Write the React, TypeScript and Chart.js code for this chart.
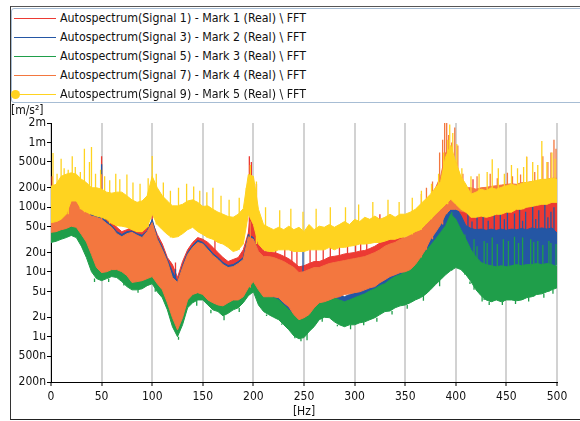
import React, { useEffect, useRef } from 'react';
import { Chart, registerables } from 'chart.js';

Chart.register(...registerables);

// Spectra are summarised every 5 Hz by the top of the dense band and its floor
// (µm/s²); isolated narrow peaks and dips are listed separately as [Hz, µm/s²].
const FREQ_STEP = 5;
const FREQ_MAX = 500;

const yTickValues = [0.2, 0.5, 1, 2, 5, 10, 20, 50, 100, 200, 500, 1000, 2000];
const xTickStep = 50;

const seriesNames = [
  'Autospectrum(Signal 1) - Mark 1 (Real) \\ FFT',
  'Autospectrum(Signal 3) - Mark 2 (Real) \\ FFT',
  'Autospectrum(Signal 5) - Mark 3 (Real) \\ FFT',
  'Autospectrum(Signal 7) - Mark 4 (Real) \\ FFT',
  'Autospectrum(Signal 9) - Mark 5 (Real) \\ FFT',
];
const seriesColors = ['#ec3a33', '#2456a4', '#1f9e4a', '#f3773f', '#ffd320'];
// lower number = painted later (on top)
const seriesOrder = [4, 3, 2, 1, 0];

const signal1Top = [
  110, 111, 111, 133, 159, 159, 133, 103, 87, 78,
  80, 70, 60, 49, 42, 45, 49, 42, 41, 49,
  60, 38, 27, 16.7, 13, 8.2, 14.5, 22, 28.6, 34,
  32, 28.6, 24, 20, 16.7, 14.5, 15.6, 16.7, 22, 40,
  200, 32, 21, 21, 20, 19, 17.5, 16, 14, 12,
  12.5, 13.5, 14.5, 14.5, 15.5, 17, 17.5, 18, 19, 19.5,
  20, 21, 21.5, 23, 25, 28, 30, 32, 34, 38,
  32, 34, 28.6, 32, 38, 42, 54, 65, 93, 133,
  111, 93, 111, 110, 103, 111, 93, 111, 100, 111,
  103, 119, 111, 119, 133, 119, 133, 143, 133, 143,
  133,
];
const signal1Floor = [
  49, 50, 54, 56, 61, 59, 46, 35, 22, 14,
  11.8, 12.1, 13, 13, 12.1, 10.6, 8.3, 8.5, 8.8, 9.5,
  10.2, 7.9, 6.4, 4, 2.4, 1.5, 2.4, 4.4, 5.4, 5.8,
  5.4, 4.4, 4, 3.7, 3.6, 4, 4.4, 4.4, 5, 6.8,
  8.5, 6.4, 5, 5, 5, 4.8, 4, 3.5, 2.6, 2.2,
  2.4, 2.6, 3.4, 4, 4.2, 4.4, 4.8, 5, 5.4, 5.5,
  5.8, 5.9, 6.0, 6.2, 6.4, 6.6, 6.9, 7.3, 7.6, 8.2,
  8.8, 9.5, 10.5, 12, 13.5, 15.6, 18, 20, 22, 25,
  27, 25, 22, 26, 22, 25, 21, 24, 22, 25,
  21, 24, 22, 25, 23, 26, 24, 27, 25, 28,
  26,
];
const signal1Spikes = [
  [1, 300], [50, 615], [100, 90], [123, 14], [162, 42], [196, 615], [198, 500], [203, 230],
  [210, 32], [215, 27], [222, 30], [231, 25], [238, 25], [243, 22], [256, 24], [262, 22],
  [269, 27], [276, 25], [285, 28], [293, 30], [301, 30], [306, 28], [312, 32], [325, 78],
  [331, 35], [338, 40], [409, 150], [417, 271], [433, 140], [452, 160], [471, 170], [489, 180],
];

const signal3Top = [
  103, 93, 103, 119, 143, 148, 119, 93, 78, 73,
  75, 60, 52, 42, 38, 42, 43, 39, 37, 43,
  65, 34, 24, 15.6, 10.1, 7.1, 12.6, 20, 25.7, 31,
  28.6, 24, 19.3, 16.7, 14, 12.6, 13, 14.5, 16.7, 38,
  34, 18.6, 5.95, 5.3, 4.8, 4.5, 3.7, 3.1, 2.6, 2.35,
  2.6, 3.1, 4.0, 4.8, 5.3, 4.95, 4.8, 4.5, 4.15, 4.5,
  4.8, 5.1, 5.5, 6.15, 6.6, 7.35, 7.9, 9.1, 10.1, 11.7,
  14.5, 22, 28.6, 35.4, 45, 60, 78, 93, 103, 111,
  100, 75, 52, 47, 45, 46, 44, 46, 44, 46,
  44, 46, 45, 47, 45, 48, 46, 48, 46, 48,
  40,
];
const signal3Floor = [
  45, 46, 50, 52, 56, 54, 42, 32, 20.5, 12.9,
  10.8, 11.1, 12, 12, 11.1, 9.7, 7.6, 7.8, 8.1, 8.7,
  9.4, 7.3, 5.8, 3.7, 2.2, 1.4, 2.2, 4.1, 5, 5.3,
  5, 4.1, 3.7, 3.4, 3.3, 3.7, 4.1, 4.1, 4.6, 6.3,
  7.8, 3.3, 2.6, 2.3, 2.1, 1.9, 1.6, 1.35, 1.08, 0.98,
  1.02, 1.26, 1.5, 1.9, 2.1, 2.1, 1.8, 1.6, 1.5, 1.6,
  1.6, 1.7, 1.8, 1.9, 2.1, 2.3, 2.6, 2.6, 2.9, 3.2,
  3.3, 3.5, 3.9, 4.2, 4.7, 5.6, 6.7, 8.5, 10, 11.5,
  12.5, 12, 11.7, 11, 10.5, 10, 10, 10.5, 10, 10.5,
  11, 10.5, 11, 11.5, 11, 12, 11.5, 12, 12.5, 12,
  13,
];
const signal3Spikes = [
  [50, 462], [123, 11], [249, 25], [412, 85], [416, 60], [421, 75], [427, 95], [432, 62],
  [438, 85], [444, 90], [448, 65], [451, 100], [458, 80], [463, 95], [466, 62], [469, 85],
  [476, 110], [479, 66], [482, 90], [488, 110], [491, 70], [494, 85], [497, 100],
];

const signal5Top = [
  54, 52, 56, 60, 65, 60, 49, 35, 24, 18,
  16.7, 16.7, 18, 17.3, 15.6, 13, 10.9, 10.9, 11.7, 13,
  14.5, 10.9, 8.2, 5.3, 3.1, 1.97, 3.1, 5.3, 6.6, 7.1,
  6.85, 5.7, 4.95, 4.5, 4.0, 4.3, 4.95, 5.3, 6.4, 9.1,
  10.1, 6.4, 4.95, 4.5, 4.0, 3.7, 3.1, 2.6, 2.2, 1.97,
  2.2, 2.6, 3.35, 4.0, 4.5, 4.15, 4.0, 3.7, 3.47, 3.7,
  4.0, 4.3, 4.6, 5.1, 5.5, 6.15, 6.6, 7.6, 8.5, 9.1,
  10.1, 11.7, 14, 16.7, 20.7, 25.7, 32, 40.8, 52, 78,
  65, 45, 32, 22, 17, 14, 13, 12.5, 12, 12.5,
  12, 12.5, 13, 12.5, 13, 13, 13.5, 13, 13.5, 13,
  12,
];
const signal5Floor = [
  28.6, 29.8, 32, 34, 36.7, 34, 25, 16.7, 10.1, 7.9,
  7.35, 7.9, 8.5, 8.2, 7.1, 5.95, 5.3, 5.3, 5.5, 6.15,
  6.6, 4.95, 4.0, 2.6, 1.43, 1.0, 1.53, 2.8, 3.35, 3.7,
  3.7, 3.1, 2.6, 2.45, 2.1, 2.3, 2.6, 2.8, 3.35, 4.3,
  4.95, 3.1, 2.45, 2.2, 2.0, 1.83, 1.53, 1.28, 1.03, 0.93,
  0.97, 1.2, 1.43, 1.83, 2.0, 1.97, 1.7, 1.53, 1.43, 1.53,
  1.53, 1.64, 1.7, 1.83, 1.97, 2.2, 2.45, 2.5, 2.8, 3.0,
  3.1, 3.35, 3.7, 4.0, 4.5, 5.3, 6.4, 7.6, 9.1, 10.5,
  11.7, 10.9, 9.1, 7.1, 5.3, 4.3, 3.7, 3.47, 3.7, 3.47,
  3.7, 3.7, 3.6, 3.7, 4.0, 4.15, 4.5, 4.6, 4.95, 5.3,
  5.7,
];
const signal5Spikes = [
  [43, 7], [57, 7], [72, 6.2], [86, 4.8], [103, 5.6], [117, 2.3], [126, 0.9], [144, 3.0],
  [158, 2.3], [171, 1.8], [186, 2.4], [213, 2.1], [228, 1.6], [241, 0.95], [247, 0.85],
  [253, 0.88], [268, 1.7], [283, 1.45], [296, 1.3], [309, 1.5], [322, 1.7], [337, 2.2],
  [352, 2.7], [368, 3.6], [384, 6], [396, 84], [409, 38], [414, 6.5], [418, 32], [421, 25],
  [426, 3.5], [428, 30], [431, 28], [433, 3.1], [436, 34], [441, 27], [446, 3.1], [447, 32],
  [452, 30], [458, 35], [459, 3.2], [462, 28], [466, 34], [472, 3.5], [474, 32], [477, 29],
  [481, 30], [486, 26], [487, 4.0], [492, 30], [494, 28], [496, 4.6], [499, 27],
];

const signal7Top = [
  93, 87, 93, 111, 133, 143, 111, 87, 73, 70,
  65, 56, 49, 39, 35, 39, 41, 37, 34, 42,
  58, 32, 22, 14.5, 8.2, 6.9, 11.7, 18.6, 24, 28.6,
  27, 22, 18, 15.6, 13, 11.7, 12.1, 13.5, 15.6, 35,
  32, 20.7, 17.3, 17.3, 16.7, 15.6, 14.5, 13, 11.7, 9.8,
  10.1, 10.9, 11.7, 11.7, 12.6, 13.5, 14, 14.5, 15, 15.6,
  16.1, 16.7, 17.3, 18.6, 20, 22, 25, 27, 28.6, 32,
  34, 38, 54, 78, 111, 143, 200, 300, 700, 600,
  500, 271, 200, 200, 190, 200, 203, 210, 215, 220,
  226, 230, 226, 240, 240, 250, 250, 260, 270, 280,
  280,
];
const signal7Floor = [
  41, 42, 45, 47, 51, 49, 38, 29, 18.6, 11.7,
  9.8, 10.1, 10.9, 10.9, 10.1, 8.8, 6.9, 7.1, 7.35, 7.9,
  8.5, 6.6, 5.3, 3.35, 1.97, 1.28, 1.97, 3.7, 4.5, 4.8,
  4.5, 3.7, 3.35, 3.1, 3.0, 3.35, 3.7, 3.7, 4.15, 5.7,
  7.1, 5.3, 4.15, 4.15, 4.15, 4.0, 3.35, 2.9, 2.2, 1.83,
  1.97, 2.2, 2.8, 3.35, 3.47, 3.7, 4.0, 4.15, 4.5, 4.6,
  4.8, 4.95, 5.3, 5.7, 5.95, 6.85, 7.6, 8.5, 9.1, 9.8,
  10.1, 10.9, 13, 16.7, 22, 32, 41, 54, 78, 93,
  93, 87, 84, 93, 93, 100, 100, 100, 103, 103,
  107, 111, 111, 115, 119, 125, 125, 133, 133, 133,
  133,
];
const signal7Spikes = [
  [50, 324], [197, 60], [366, 160], [371, 200], [377, 250], [384, 700], [387, 1100],
  [389, 2300], [391, 2000], [393, 1300], [396, 1000], [399, 1700], [402, 900], [407, 330],
  [421, 300], [434, 330], [441, 280], [451, 340], [456, 300], [464, 320], [470, 600],
  [478, 350], [486, 615], [491, 500], [494, 700], [497, 1100], [499, 800],
];

const signal9Top = [
  211, 226, 300, 324, 340, 324, 271, 240, 200, 200,
  190, 171, 165, 171, 171, 150, 130, 119, 125, 150,
  300, 200, 150, 125, 105, 105, 111, 125, 130, 119,
  103, 105, 93, 84, 78, 72, 70, 78, 95, 320,
  300, 93, 54, 49, 45, 49, 45, 51, 45, 49,
  42, 54, 45, 51, 49, 54, 49, 54, 60, 54,
  65, 60, 70, 65, 73, 65, 70, 78, 70, 78,
  78, 84, 93, 111, 133, 159, 200, 250, 600, 900,
  500, 300, 226, 159, 171, 190, 180, 200, 190, 203,
  215, 226, 215, 235, 240, 250, 260, 270, 270, 280,
  271,
];
const signal9Floor = [
  58, 60, 65, 78, 125, 125, 93, 84, 78, 73,
  70, 65, 56, 52, 51, 49, 45, 42, 42, 49,
  78, 54, 45, 38, 34, 35, 39, 45, 49, 42,
  38, 34, 32, 28.6, 27, 24, 20.7, 22, 27, 78,
  54, 27, 22, 20.7, 20.7, 22, 22, 22, 20.7, 20.7,
  20.7, 22, 22, 22, 22, 24, 22, 24, 24, 25,
  25.7, 27, 27, 27.6, 28.6, 28.6, 30, 32, 32, 34,
  35, 38, 42, 45, 54, 65, 78, 93, 111, 133,
  111, 93, 84, 70, 70, 73, 70, 73, 78, 78,
  84, 84, 93, 93, 100, 103, 107, 111, 111, 119,
  119,
];
const signal9Spikes = [
  [2, 690], [6, 330], [10, 560], [13, 400], [17, 380], [21, 615], [24, 420], [29, 350],
  [33, 800], [38, 500], [40, 850], [44, 330], [49, 380], [53, 300], [58, 260], [64, 330],
  [68, 270], [75, 320], [81, 240], [88, 230], [96, 280], [100, 620], [104, 330], [111, 240],
  [118, 180], [126, 200], [134, 230], [141, 210], [147, 180], [154, 170], [160, 200],
  [168, 150], [176, 130], [186, 140], [193, 200], [197, 450], [203, 250], [212, 100],
  [226, 90], [237, 95], [249, 85], [262, 95], [276, 100], [291, 100], [304, 110], [318, 120],
  [333, 130], [344, 120], [357, 140], [366, 180], [376, 230], [383, 330], [388, 700],
  [392, 1100], [394, 1900], [397, 1400], [401, 950], [406, 400], [415, 300], [423, 330],
  [431, 350], [436, 553], [442, 400], [448, 330], [455, 450], [461, 400], [467, 420],
  [470, 600], [476, 500], [481, 450], [485, 1050], [490, 500], [495, 700], [498, 560],
];

const tops = [signal1Top, signal3Top, signal5Top, signal7Top, signal9Top];
const floors = [signal1Floor, signal3Floor, signal5Floor, signal7Floor, signal9Floor];
const spikes = [signal1Spikes, signal3Spikes, signal5Spikes, signal7Spikes, signal9Spikes];

const FONT = '"DejaVu Sans Condensed", "Liberation Sans", Arial, sans-serif';

function toPoints(values: number[]) {
  return values.map((v, i) => ({ x: i * FREQ_STEP, y: v }));
}

// each narrow peak or dip becomes a vertical stroke starting inside its own band
function spikePoints(list: number[][], floor: number[]) {
  const pts: { x: number; y: number | null }[] = [];
  list.forEach(([f, level]) => {
    const base = floor[Math.min(floor.length - 1, Math.round(f / FREQ_STEP))];
    pts.push({ x: f, y: base }, { x: f, y: level }, { x: f, y: null });
  });
  return pts;
}

function formatAccel(v: number) {
  if (v >= 1000) return `${Math.round(v / 1000)}m`;
  if (v >= 1) return `${Math.round(v)}u`;
  return `${Math.round(v * 1000)}n`;
}

export default function App() {
  const canvasRef = useRef<HTMLCanvasElement | null>(null);

  useEffect(() => {
    if (!canvasRef.current) return;
    const datasets: any[] = [];
    seriesNames.forEach((name, i) => {
      const common = {
        borderColor: seriesColors[i],
        borderWidth: 1,
        pointRadius: 0,
        tension: 0,
        order: seriesOrder[i],
      };
      // band top, shaded down to the floor trace that follows it
      datasets.push({ ...common, label: name, data: toPoints(tops[i]), backgroundColor: seriesColors[i], fill: '+1' });
      datasets.push({ ...common, label: `${name} floor`, data: toPoints(floors[i]), fill: false });
      datasets.push({
        ...common,
        label: `${name} peaks`,
        data: spikePoints(spikes[i], floors[i]),
        fill: false,
        borderWidth: 1.3,
        spanGaps: false,
      });
    });

    const chart = new Chart(canvasRef.current, {
      type: 'line',
      data: { datasets },
      options: {
        animation: false,
        responsive: false,
        events: [],
        layout: { padding: { left: 0, right: 23, top: 123, bottom: 0 } },
        plugins: {
          legend: { display: false },
          tooltip: { enabled: false },
          filler: { drawTime: 'beforeDatasetDraw' },
        },
        scales: {
          x: {
            type: 'linear',
            min: 0,
            max: FREQ_MAX,
            ticks: {
              stepSize: xTickStep,
              color: '#111',
              font: { family: FONT, size: 12 },
              padding: 4,
              maxRotation: 0,
            },
            grid: {
              color: '#d2d2d2',
              lineWidth: 2,
              tickColor: '#000',
              tickWidth: 1,
              tickLength: 4,
            },
            border: { color: '#000', width: 1 },
            afterFit: (s: any) => {
              s.height = 39;
            },
          },
          y: {
            type: 'logarithmic',
            min: 0.2,
            max: 2000,
            afterBuildTicks: (axis: any) => {
              axis.ticks = yTickValues.map((v) => ({ value: v }));
            },
            ticks: {
              color: '#111',
              font: { family: FONT, size: 12 },
              padding: 1,
              autoSkip: false,
              callback: (v: any) => formatAccel(Number(v)),
            },
            grid: {
              drawOnChartArea: false,
              tickColor: '#000',
              tickWidth: 1,
              tickLength: 4,
            },
            border: { color: '#000', width: 1 },
            afterFit: (s: any) => {
              s.width = 51;
            },
          },
        },
      },
    });
    return () => chart.destroy();
  }, []);

  return (
    <div
      style={{
        position: 'fixed',
        left: 0,
        top: 0,
        width: 580,
        height: 421,
        background: '#fff',
        overflow: 'hidden',
        fontFamily: FONT,
        color: '#111',
      }}
    >
      {/* outer frame */}
      <div
        style={{
          position: 'absolute',
          left: 10,
          top: 6,
          width: 600,
          height: 414,
          borderLeft: '1px solid #333',
          borderTop: '1px solid #555',
          borderBottom: '1px solid #222',
          boxSizing: 'border-box',
        }}
      />
      <canvas ref={canvasRef} width={580} height={421} style={{ position: 'absolute', left: 0, top: 0 }} />
      {/* legend */}
      <div
        style={{
          position: 'absolute',
          left: 11,
          top: 8,
          width: 600,
          height: 95,
          border: '1px solid #a7bdd4',
          borderRadius: 3,
          boxSizing: 'border-box',
          background: '#fff',
        }}
      >
        {seriesNames.map((name, i) => (
          <div
            key={name}
            style={{ position: 'absolute', left: 0, top: 1 + i * 19, height: 17, width: 560 }}
          >
            <div
              style={{
                position: 'absolute',
                left: 2,
                top: 8,
                width: 42,
                height: 1,
                background: seriesColors[i],
              }}
            />
            {i === 4 && (
              <div
                style={{
                  position: 'absolute',
                  left: -1,
                  top: 4,
                  width: 9,
                  height: 9,
                  borderRadius: '50%',
                  background: seriesColors[i],
                }}
              />
            )}
            <div
              style={{
                position: 'absolute',
                left: 48,
                top: 0,
                fontSize: 12.3,
                lineHeight: '17px',
                whiteSpace: 'nowrap',
              }}
            >
              {name}
            </div>
          </div>
        ))}
      </div>
      {/* axis units */}
      <div style={{ position: 'absolute', left: 11, top: 103, fontSize: 12, lineHeight: '14px' }}>[m/s²]</div>
      <div
        style={{
          position: 'absolute',
          left: 284,
          width: 40,
          top: 404,
          fontSize: 12,
          lineHeight: '14px',
          textAlign: 'center',
        }}
      >
        [Hz]
      </div>
    </div>
  );
}
